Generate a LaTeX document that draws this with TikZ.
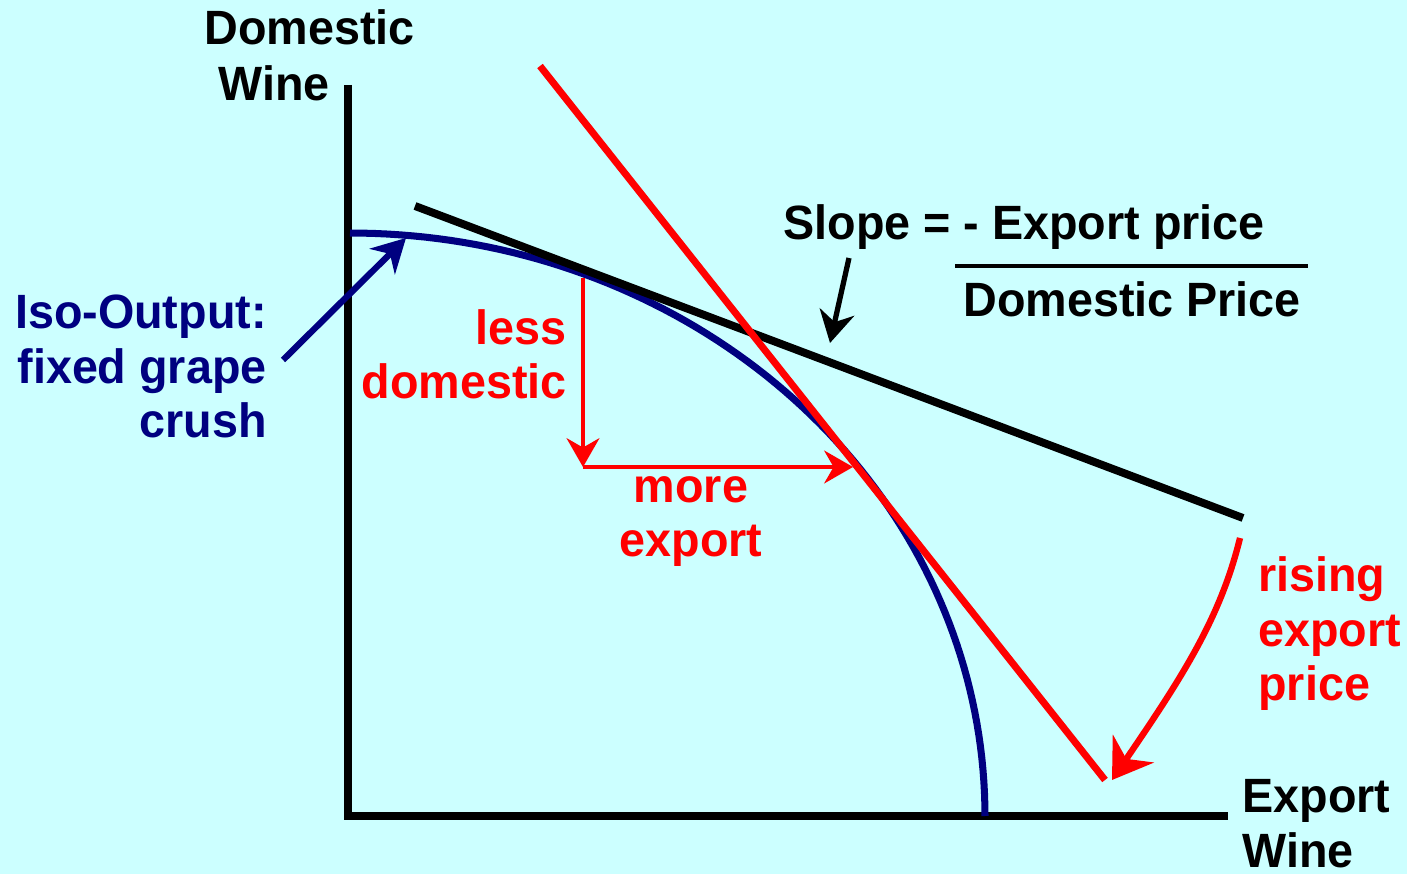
\documentclass[tikz,border=0pt]{standalone}
\usepackage{fontspec}
\setmainfont[FakeStretch=0.97]{Liberation Sans}
\usetikzlibrary{arrows.meta,positioning,calc}
\definecolor{bgcyan}{RGB}{204,255,255}
\definecolor{isoblue}{RGB}{0,0,128}

\begin{document}
\begin{tikzpicture}[x=0.02cm, y=-0.02cm,
    lbl/.style={inner sep=0pt, font=\fontsize{27.4pt}{31.2pt}\selectfont\bfseries},
    thinarrow/.style={red, line width=2pt, -{Stealth[length=16.4pt, width=18.7pt]}}]
  \fill[bgcyan] (0,0) rectangle (1407,874);
  \useasboundingbox (0,0) rectangle (1407,874);

  % axes
  \coordinate (ytop) at (348,85);
  \coordinate (xend) at (1228,816);
  \draw[line width=4.5pt] (ytop) |- (xend);
  \node[lbl, anchor=base east] (ylab) at (415,45) {Domestic};
  \node[lbl, anchor=base east] (ylab2) at (330,101) {Wine};
  \node[lbl, anchor=base west, align=left] (xlab) at (1242,867) {Export\\Wine};

  % iso-output curve
  \draw[isoblue, line width=4pt] plot[domain=0:90, samples=80]
    ({350+635*cos(\x)}, {816-583*sin(\x)});

  % price lines
  \coordinate (bl1) at (415,206);
  \coordinate (bl2) at (1243,518);
  \draw[line width=4.5pt] (bl1) -- (bl2);
  \coordinate (rl1) at (540,66);
  \coordinate (rl2) at (1105,780);
  \draw[red, line width=4pt] (rl1) -- (rl2);

  % move along the curve
  \coordinate (p0) at (583,278);
  \coordinate (p1) at (583,467);
  \coordinate (p2) at (853,467);
  \draw[thinarrow] (p0) -- (p1);
  \draw[thinarrow] (p1) -- (p2);
  \node[lbl, red, anchor=base east, align=right] (less) at (567,399) {less\\domestic};
  \node[lbl, red, anchor=base, align=center] (more) at (691,557) {more\\export};

  % slope label
  \node[lbl, anchor=base west] (slope) at (783,240) {Slope = - Export price};
  \node[lbl, anchor=base west] (den) at (963,317) {Domestic Price};
  \coordinate (bar1) at (955,266);
  \coordinate (bar2) at (1308,266);
  \draw[line width=2.8pt] (bar1) -- (bar2);
  \coordinate (sa) at (849,258);
  \coordinate (sb) at (830,343);
  \draw[line width=3pt, -{Stealth[length=18pt, width=20pt]}] (sa) -- (sb);

  % iso label
  \node[lbl, isoblue, anchor=base east, align=right] (iso) at (267,438) {Iso-Output:\\fixed grape\\crush};
  \coordinate (ia) at (283,360);
  \coordinate (ib) at (406,238);
  \draw[isoblue, line width=3.6pt, -{Stealth[length=19pt, width=20.4pt]}] (ia) -- (ib);

  % rising price
  \node[lbl, red, anchor=base west, align=left] (rise) at (1258,701) {rising\\export\\price};
  \coordinate (ra) at (1240,538);
  \coordinate (rb) at (1112,780);
  \draw[red, line width=3.6pt, -{Stealth[length=21.5pt, width=28pt]}]
    (ra) .. controls (1220,620) and (1180,680) .. (rb);
\end{tikzpicture}
\end{document}
